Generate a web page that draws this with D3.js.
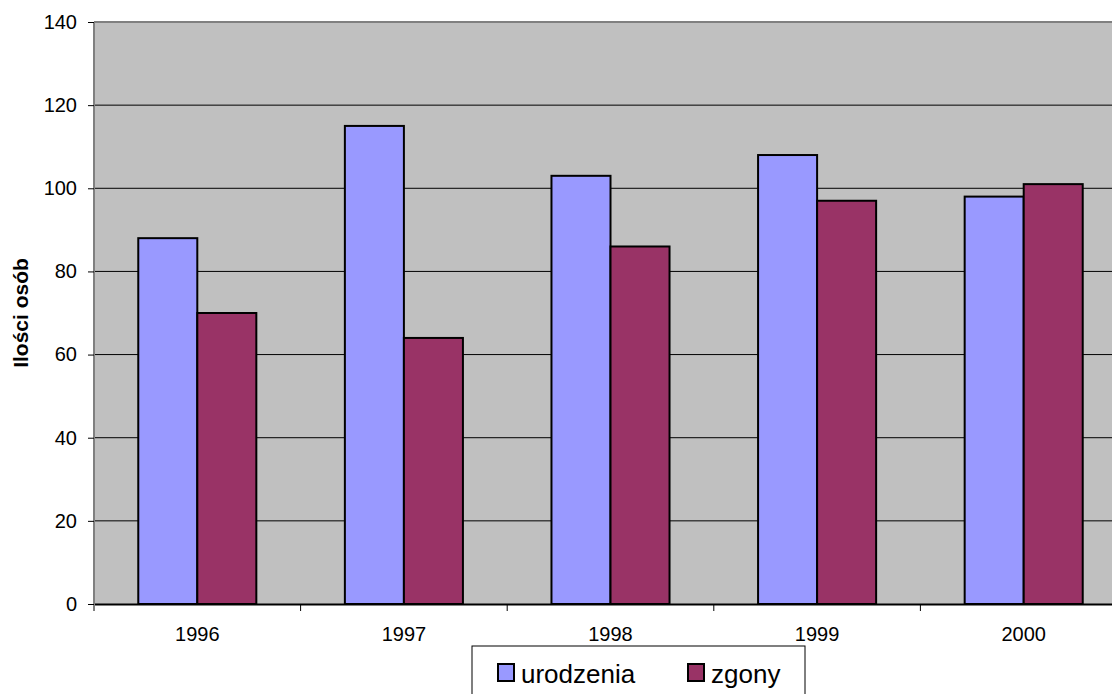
<!DOCTYPE html>
<html>
<head>
<meta charset="utf-8">
<script src="https://cdn.jsdelivr.net/npm/d3@7"></script>
<style>
body { margin: 0; background: #fff; overflow: hidden; }
svg { font-family: Arial, "Liberation Sans", sans-serif; }
</style>
</head>
<body>
<div id="chart"></div>
<script>
var years = ['1996', '1997', '1998', '1999', '2000'];
var urodzenia = [88, 115, 103, 108, 98];
var zgony = [70, 64, 86, 97, 101];
var seriesNames = ['urodzenia', 'zgony'];
var seriesColors = ['#9999ff', '#993366'];
var yTicks = [0, 20, 40, 60, 80, 100, 120, 140];

var W = 1112, H = 694;
var pad = {l: 94, t: 22, b: 90};
var plotW = 1033; // plot runs past the right edge of the window
var font = 'Arial, "Liberation Sans", sans-serif';
var svg = d3.select('#chart').append('svg')
	.attr('width', W)
	.attr('height', H);

var x = d3.scaleBand()
	.domain(years)
	.range([pad.l, pad.l + plotW]);
var y = d3.scaleLinear()
	.domain([0, 140])
	.range([H - pad.b, pad.t]);

var barW = x.bandwidth() / 3.5;
var gapW = barW * 0.75;

// plot background
svg.append('rect')
	.attr('x', pad.l).attr('y', y(140))
	.attr('width', plotW).attr('height', y(0) - y(140))
	.attr('fill', '#c0c0c0');

// gridlines
svg.append('g').selectAll('line')
	.data(yTicks.filter(d => d > 0 && d < 140)).enter()
	.append('line')
		.attr('x1', pad.l).attr('x2', pad.l + plotW)
		.attr('y1', d => y(d)).attr('y2', d => y(d))
		.attr('stroke', '#000').attr('stroke-width', 1);

// top border
svg.append('line')
	.attr('x1', pad.l).attr('x2', pad.l + plotW)
	.attr('y1', y(140)).attr('y2', y(140))
	.attr('stroke', '#808080').attr('stroke-width', 2);

// bars
var data = [];
years.forEach(function(yr, i) {
	data.push({year: yr, s: 0, v: urodzenia[i]});
	data.push({year: yr, s: 1, v: zgony[i]});
});
svg.append('g').selectAll('rect')
	.data(data).enter()
	.append('rect')
		.attr('x', d => x(d.year) + gapW + d.s * barW)
		.attr('y', d => y(d.v))
		.attr('width', barW)
		.attr('height', d => y(0) - y(d.v))
		.attr('fill', d => seriesColors[d.s])
		.attr('stroke', '#000')
		.attr('stroke-width', 2);

// axes
var xAxis = d3.axisBottom(x).tickSize(0).tickPadding(23);
var gx = svg.append('g')
	.attr('transform', 'translate(0,' + y(0) + ')')
	.call(xAxis)
	.call(g => g.select('.domain').attr('stroke', '#000').attr('stroke-width', 2))
	.call(g => g.selectAll('.tick text').attr('font-size', 20).attr('fill', '#000').attr('font-family', font));
// category separator ticks
gx.append('g').selectAll('line')
	.data(years).enter()
	.append('line')
		.attr('x1', d => x(d)).attr('x2', d => x(d))
		.attr('y1', 0).attr('y2', 7)
		.attr('stroke', '#000');

var yAxis = d3.axisLeft(y).tickValues(yTicks).tickSize(6).tickSizeOuter(0).tickPadding(11);
svg.append('g')
	.attr('transform', 'translate(' + pad.l + ',0)')
	.call(yAxis)
	.call(g => g.select('.domain').attr('stroke', '#808080').attr('stroke-width', 2)
		.attr('d', 'M0,' + y(140) + 'V' + (y(0) + 6)))
	.call(g => g.selectAll('.tick line').attr('stroke', '#000'))
	.call(g => g.selectAll('.tick text').attr('font-size', 20).attr('fill', '#000').attr('font-family', font));

// y label
svg.append('text')
	.attr('transform', 'translate(28,313) rotate(-90)')
	.attr('text-anchor', 'middle')
	.attr('font-size', 21)
	.attr('font-weight', 'bold')
	.text('Ilości osób');

// legend
var leg = svg.append('g').attr('transform', 'translate(472,646)');
leg.append('rect')
	.attr('x', 0).attr('y', 0)
	.attr('width', 333).attr('height', 60)
	.attr('fill', '#fff').attr('stroke', '#000').attr('stroke-width', 1);
var legX = [26, 216];
seriesNames.forEach(function(name, i) {
	leg.append('rect')
		.attr('x', legX[i]).attr('y', 18)
		.attr('width', 16).attr('height', 17)
		.attr('fill', seriesColors[i])
		.attr('stroke', '#000').attr('stroke-width', 2);
	leg.append('text')
		.attr('x', legX[i] + 23).attr('y', 37)
		.attr('font-size', 26)
		.text(name);
});
</script>
</body>
</html>
